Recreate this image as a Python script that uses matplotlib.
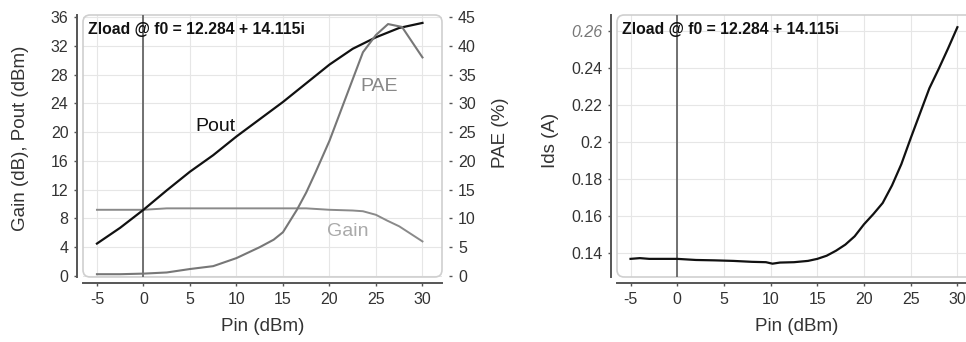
import matplotlib
matplotlib.use("Agg")
import matplotlib.pyplot as plt
from matplotlib.patches import FancyBboxPatch

plt.rcParams['font.family'] = ['Liberation Sans', 'DejaVu Sans']

# data
pin_pout = [-5, -2.5, 0, 2.5, 5, 7.5, 10, 12.5, 15, 17.5, 20, 22.5, 25, 27.5, 30]
pout = [4.5, 6.7, 9.2, 11.9, 14.5, 16.8, 19.4, 21.8, 24.2, 26.8, 29.4, 31.6, 33.2, 34.5, 35.2]

pin_gain = [-5, 0, 2.5, 5, 10, 15, 17.5, 20, 22.5, 23.6, 25, 26.2, 27.5, 30]
gain = [9.2, 9.2, 9.4, 9.4, 9.4, 9.4, 9.4, 9.2, 9.1, 9.0, 8.5, 7.7, 6.9, 4.8]

pin_pae = [-5, -2.5, 0, 2.5, 5, 7.5, 10, 12.5, 14, 15, 16.5, 17.5, 18.5, 20, 22.5, 23.6, 25, 26.3, 27.8, 30]
pae = [0.3, 0.3, 0.4, 0.6, 1.2, 1.7, 3.1, 5.0, 6.3, 7.6, 11.5, 14.5, 18.0, 23.5, 34.2, 38.9, 41.9, 43.8, 43.3, 38.0]

pin_ids = [-5, -4, -3, -2, 0, 2, 4, 6, 8, 9.5, 10.2, 11, 12.5, 14, 15, 16, 17, 18, 19, 20,
           21, 22, 23, 24, 25, 26, 27, 28, 29, 30]
ids = [0.1368, 0.1372, 0.1368, 0.1368, 0.1368, 0.1362, 0.1360, 0.1357, 0.1352, 0.1350,
       0.1342, 0.1348, 0.1350, 0.1357, 0.1368, 0.1385, 0.1412, 0.1445, 0.1490, 0.1555,
       0.1610, 0.1670, 0.1765, 0.1880, 0.2020, 0.2155, 0.2290, 0.2395, 0.2505, 0.2620]

x_ticks = [-5, 0, 5, 10, 15, 20, 25, 30]
left_ticks = [0, 4, 8, 12, 16, 20, 24, 28, 32, 36]
pae_ticks = [0, 5, 10, 15, 20, 25, 30, 35, 40, 45]
ids_ticks = [0.14, 0.16, 0.18, 0.2, 0.22, 0.24, 0.26]
ids_labels = ["0.14", "0.16", "0.18", "0.2", "0.22", "0.24", "0.26"]

title = "Zload @ f0 = 12.284 + 14.115i"
TXT = "#333333"
GRID = "#e6e6e6"


def style_axes(ax, w_px, h_px):
    for s in ["top", "right"]:
        ax.spines[s].set_visible(False)
    ax.spines["left"].set_position(("outward", 4))
    ax.spines["bottom"].set_position(("outward", 4.5))
    for s in ["left", "bottom"]:
        ax.spines[s].set_color("#555555")
        ax.spines[s].set_linewidth(1.4)
    ax.tick_params(axis="both", length=2.5, width=1.0, color="#555555",
                   labelcolor=TXT, labelsize=11.5, pad=4)
    ax.grid(True, color=GRID, linewidth=0.8)
    ax.set_axisbelow(True)
    frame = FancyBboxPatch((0, 0), 1, 1, boxstyle="round,pad=0,rounding_size=0.02",
                           mutation_aspect=w_px / h_px, transform=ax.transAxes,
                           facecolor="none", edgecolor="#cfcfcf", linewidth=1.2,
                           clip_on=False, zorder=1)
    ax.add_patch(frame)
    ax.axvline(0, color="#666666", linewidth=1.3, zorder=2)
    ax.text(0.015, 0.945, title, transform=ax.transAxes, fontsize=11.3,
            fontweight="bold", color="#111111", va="center", ha="left", zorder=5)
    ax.set_xticks(x_ticks)
    ax.set_xticklabels([str(v) for v in x_ticks])
    ax.set_xlabel("Pin (dBm)", fontsize=13.5, color=TXT, va="center")
    ax.xaxis.set_label_coords(0.5, -0.19)


fig = plt.figure(figsize=(9.66, 3.42), dpi=100)

# left chart: Pout, Gain, PAE
ax1 = fig.add_axes([83 / 966, 65 / 342, 359 / 966, 262 / 342])
ax1.patch.set_alpha(0)
style_axes(ax1, 359, 262)
ax1.set_xlim(-6.5, 32.1)
ax1.set_ylim(-0.15, 36.3)
ax1.set_yticks(left_ticks)
ax1.plot(pin_pout, pout, color="#111111", linewidth=1.6, zorder=4)
ax1.plot(pin_gain, gain, color="#8a8a8a", linewidth=1.4, zorder=3)
ax1.set_ylabel("Gain (dB), Pout (dBm)", fontsize=13.5, color=TXT, va="center")
ax1.yaxis.set_label_coords(-0.175, 0.53)
ax1.text(7.7, 20.8, "Pout", fontsize=14, color="#111111", ha="center", va="center")
ax1.text(22.0, 6.2, "Gain", fontsize=14, color="#aaaaaa", ha="center", va="center")

ax2 = ax1.twinx()
ax2.set_ylim(-0.15 * 1.25, 36.3 * 1.25)
ax2.set_yticks(pae_ticks)
for s in ["top", "left", "bottom", "right"]:
    ax2.spines[s].set_visible(False)
ax2.spines["right"].set_position(("outward", 5))
ax2.tick_params(axis="y", length=2.5, width=1.0, color="#555555",
                labelcolor=TXT, labelsize=11.5, pad=4)
ax2.plot(pin_pae, pae, color="#777777", linewidth=1.5, zorder=3)
ax2.text(25.3, 33.0, "PAE", fontsize=14, color="#888888", ha="center", va="center")
ax2.set_ylabel("PAE (%)", fontsize=13.5, color=TXT, va="center")
ax2.yaxis.set_label_coords(1.162, 0.55)

# right chart: Ids
ax3 = fig.add_axes([617 / 966, 65 / 342, 360 / 966, 262 / 342])
ax3.patch.set_alpha(0)
style_axes(ax3, 360, 262)
ax3.set_xlim(-6.45, 32.1)
ax3.set_ylim(0.127, 0.2686)
ax3.set_yticks(ids_ticks)
ax3.set_yticklabels(ids_labels)
top_lbl = ax3.get_yticklabels()[-1]
top_lbl.set_fontstyle("italic")
top_lbl.set_color("#777777")
ax3.plot(pin_ids, ids, color="#111111", linewidth=1.6, zorder=4)
ax3.set_ylabel("Ids (A)", fontsize=13.5, color=TXT, va="center")
ax3.yaxis.set_label_coords(-0.186, 0.52)

fig.savefig("out.png", dpi=100)
